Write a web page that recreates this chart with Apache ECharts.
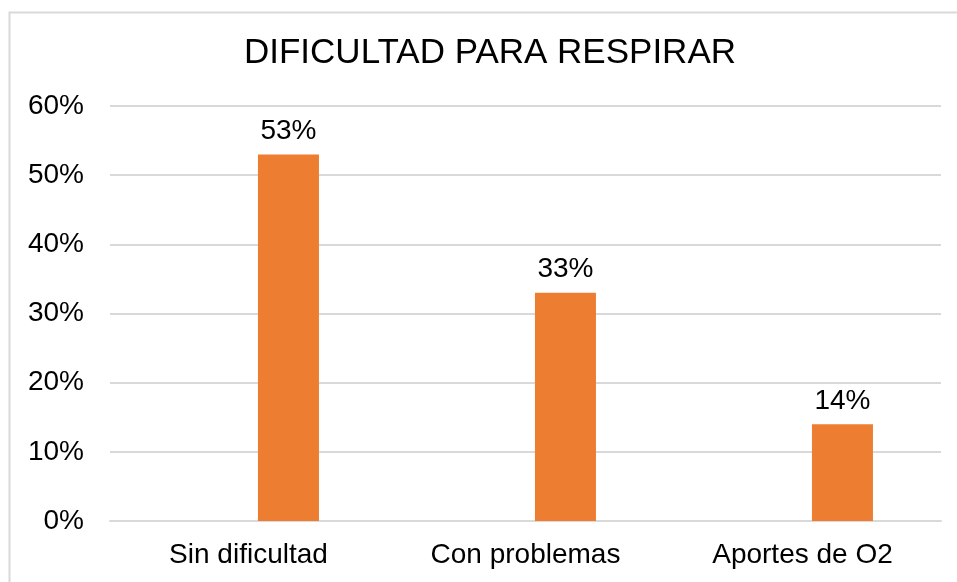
<!DOCTYPE html>
<html>
<head>
<meta charset="utf-8">
<script src="https://cdn.jsdelivr.net/npm/echarts@6/dist/echarts.min.js"></script>
<style>
  html, body { margin: 0; padding: 0; background: #fff; }
  #chart { width: 957px; height: 582px; }
</style>
</head>
<body>
<div id="chart"></div>
<script>
var categories = ['Sin dificultad', 'Con problemas', 'Aportes de O2'];
var emptySeries = [null, null, null];
var values = [53, 33, 14];
var yTicks = [0, 10, 20, 30, 40, 50, 60];

var myChart = echarts.init(document.getElementById('chart'));
var font = 'Liberation Sans, Arial, sans-serif';

var option = {
  animation: false,
  graphic: [{
    type: 'rect',
    shape: { x: 9.5, y: 12.5, width: 1000, height: 1000 },
    style: { fill: 'none', stroke: '#d9d9d9', lineWidth: 2 }
  }, {
    // title, centred over the chart area like the original
    type: 'text',
    x: 490,
    y: 53,
    style: {
      text: 'DIFICULTAD PARA RESPIRAR',
      font: 'normal 35px ' + font,
      fill: '#000',
      textAlign: 'center',
      textVerticalAlign: 'middle'
    }
  }],
  grid: { left: 110, right: 16, top: 106, bottom: 61 },
  xAxis: {
    type: 'category',
    data: categories,
    axisTick: { show: false },
    axisLine: { lineStyle: { color: '#d9d9d9', width: 2 } },
    axisLabel: { fontFamily: font, fontSize: 28, color: '#000', margin: 20 }
  },
  yAxis: {
    type: 'value',
    min: yTicks[0],
    max: yTicks[yTicks.length - 1],
    interval: 10,
    axisLine: { show: false },
    axisTick: { show: false },
    splitLine: { lineStyle: { color: '#d9d9d9', width: 2 } },
    axisLabel: { fontFamily: font, fontSize: 28, color: '#000', margin: 26, formatter: '{value}%' }
  },
  series: [
    {
      type: 'bar',
      data: emptySeries,
      barWidth: 61,
      barGap: '31%'
    },
    {
      type: 'bar',
      data: values,
      barWidth: 61,
      barGap: '31%',
      itemStyle: { color: '#ED7D31' },
      label: {
        show: true,
        position: 'top',
        distance: 9,
        formatter: '{c}%',
        fontFamily: font,
        fontSize: 28,
        color: '#000'
      }
    }
  ]
};
myChart.setOption(option);
</script>
</body>
</html>
